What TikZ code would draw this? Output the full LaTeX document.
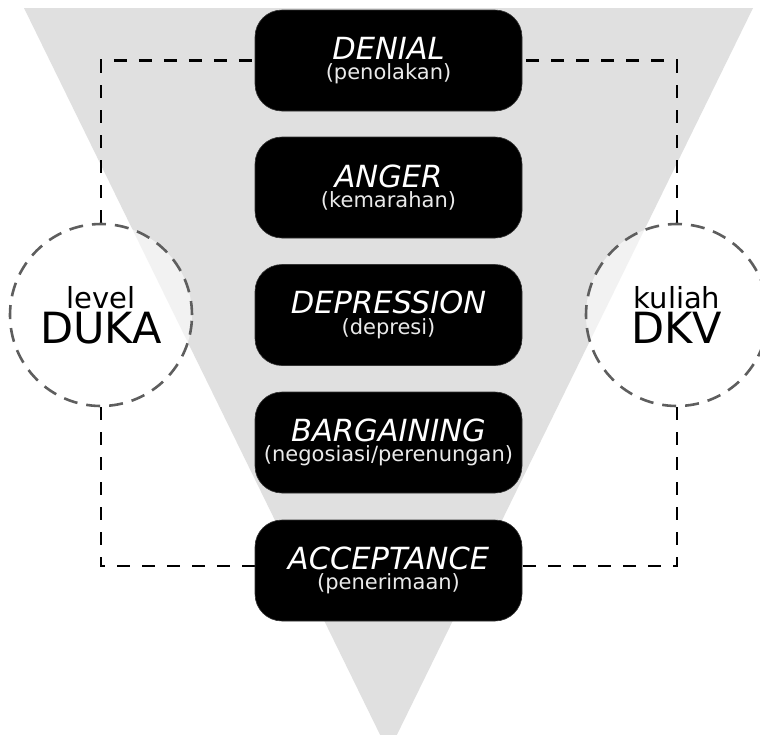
\documentclass[tikz,border=0pt]{standalone}
\usepackage{fontspec}
\setmainfont{DejaVu Sans}
\usetikzlibrary{backgrounds}
\definecolor{tri}{HTML}{E0E0E0}
\definecolor{ringc}{HTML}{5E5E5E}
\definecolor{subc}{HTML}{EAEAEA}
\newcommand{\ttlf}{\fontsize{30.5}{20.5}\selectfont\itshape\color{white}}
\newcommand{\subf}{\fontsize{21}{20.5}\selectfont\upshape\color{subc}}
\newcommand{\smallf}{\fontsize{29}{35}\selectfont}
\newcommand{\bigf}{\fontsize{43}{35}\selectfont}
\begin{document}
\begin{tikzpicture}[x=1pt,y=-1pt,
  stage/.style={fill=black, draw=black!80, line width=0.6pt, rounded corners=27pt,
    minimum width=267pt, minimum height=101pt, inner sep=0pt, align=center,
    font=\fontsize{30.5}{20.5}\selectfont},
  ring/.style={circle, minimum size=182pt, inner sep=0pt, draw=ringc,
    line width=2.6pt, dash pattern=on 14pt off 9pt,
    fill=white, fill opacity=0.6, draw opacity=1, text opacity=1,
    align=center, font=\fontsize{29}{35}\selectfont},
  frame/.style={draw=black, line width=2.6pt, dash pattern=on 13pt off 12pt}]
\useasboundingbox (0,0) rectangle (760,734);
\clip (0,0) rectangle (760,734);
% side circles
\node[ring] (duka) at (101,315) {\smallf level\\\bigf DUKA};
\node[ring] (dkv) at (677,315) {\smallf kuliah\\\bigf DKV};
% stage boxes
\node[stage] (denial) at (388.5,60.5) {\ttlf DENIAL\\\subf (penolakan)};
\node[stage] (anger) at (388.5,187.5) {\ttlf ANGER\\\subf (kemarahan)};
\node[stage] (depr) at (388.5,315) {\ttlf DEPRESSION\\\subf (depresi)};
\node[stage] (barg) at (388.5,442.5) {\ttlf BARGAINING\\\subf (negosiasi/perenungan)};
\node[stage] (acc) at (388.5,570.5) {\ttlf ACCEPTANCE\\\subf (penerimaan)};
\coordinate (accW) at ([yshift=4.5pt]acc.west);
\coordinate (accE) at ([yshift=4.5pt]acc.east);
\begin{scope}[on background layer]
  \fill[white] (0,0) rectangle (760,734);
  % background triangle
  \fill[tri] (24,8) -- (753,8) -- (388.5,752) -- cycle;
  % dashed frame, from the circles to the first and last boxes
  \draw[frame] (duka.north) |- (denial.west);
  \draw[frame] (duka.south) |- (accW);
  \draw[frame] (dkv.north) |- (denial.east);
  \draw[frame] (dkv.south) |- (accE);
\end{scope}
\end{tikzpicture}
\end{document}
